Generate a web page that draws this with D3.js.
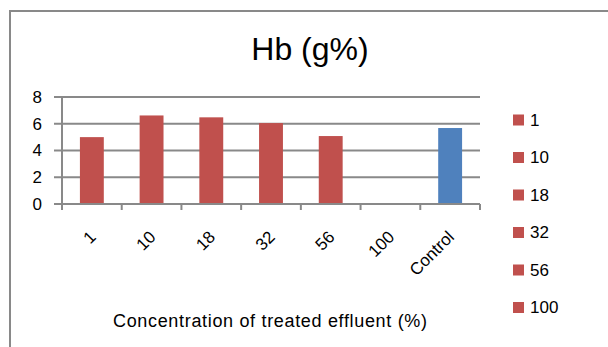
<!DOCTYPE html>
<html>
<head>
<meta charset="utf-8">
<script src="https://cdn.jsdelivr.net/npm/d3@7"></script>
<style>
  html, body { margin: 0; padding: 0; background: #fff; }
  svg { display: block; }
</style>
</head>
<body>
<svg id="chart" width="608" height="347"></svg>
<script>
// Hb (g%) by concentration of treated effluent
const categories = ["1", "10", "18", "32", "56", "100", "Control"];
const hbValues = [5.0, 6.62, 6.48, 6.05, 5.08, null, 5.68];
const barColors = ["#C0504D", "#C0504D", "#C0504D", "#C0504D", "#C0504D", "#C0504D", "#4F81BD"];
const legendLabels = ["1", "10", "18", "32", "56", "100"];
const yTicks = [0, 2, 4, 6, 8];

const svg = d3.select("#chart");
const font = "'Liberation Sans', Arial, sans-serif";
const grey = "#898989";

// Frame (top and left edges)
svg.append("path")
  .attr("d", "M10,347 L10,11 L608,11")
  .attr("fill", "none")
  .attr("stroke", grey)
  .attr("stroke-width", 2);

// Title
svg.append("text")
  .attr("x", 310).attr("y", 60)
  .attr("text-anchor", "middle")
  .attr("font-family", font)
  .attr("font-size", 32)
  .attr("fill", "#000")
  .text("Hb (g%)");

const plot = { left: 62, right: 480, top: 97, bottom: 204 };

const x = d3.scaleBand()
  .domain(categories)
  .range([plot.left, plot.right])
  .paddingInner(0.6)
  .paddingOuter(0.3);

const xOuter = d3.scaleBand()
  .domain(categories)
  .range([plot.left, plot.right]);

const y = d3.scaleLinear()
  .domain([0, 8])
  .range([plot.bottom, plot.top]);

// Horizontal gridlines with short ticks at the left
const gy = svg.append("g");
gy.selectAll("line.grid")
  .data(yTicks)
  .join("line")
  .attr("class", "grid")
  .attr("x1", plot.left - 8).attr("x2", plot.right)
  .attr("y1", d => y(d)).attr("y2", d => y(d))
  .attr("stroke", grey).attr("stroke-width", 2);

gy.selectAll("text")
  .data(yTicks)
  .join("text")
  .attr("x", 42)
  .attr("y", d => y(d))
  .attr("dy", "0.35em")
  .attr("text-anchor", "end")
  .attr("font-family", font)
  .attr("font-size", 17)
  .attr("fill", "#000")
  .text(d => d);

// Y axis line
svg.append("line")
  .attr("x1", plot.left).attr("x2", plot.left)
  .attr("y1", plot.top).attr("y2", plot.bottom + 6)
  .attr("stroke", grey).attr("stroke-width", 2);

// Category boundary ticks below the baseline
const bounds = categories.map(c => xOuter(c)).concat([plot.right]);
svg.selectAll("line.xtick")
  .data(bounds)
  .join("line")
  .attr("class", "xtick")
  .attr("x1", d => d).attr("x2", d => d)
  .attr("y1", plot.bottom).attr("y2", plot.bottom + 6)
  .attr("stroke", grey).attr("stroke-width", 2);

// Bars
svg.selectAll("rect.bar")
  .data(categories.map((c, i) => ({ c, v: hbValues[i], color: barColors[i] })).filter(d => d.v != null))
  .join("rect")
  .attr("class", "bar")
  .attr("x", d => x(d.c))
  .attr("width", x.bandwidth())
  .attr("y", d => y(d.v))
  .attr("height", d => y(0) - y(d.v))
  .attr("fill", d => d.color);

// Baseline drawn over the bars
svg.append("line")
  .attr("x1", plot.left).attr("x2", plot.right)
  .attr("y1", plot.bottom).attr("y2", plot.bottom)
  .attr("stroke", grey).attr("stroke-width", 2);

// Rotated category labels
svg.selectAll("text.xlab")
  .data(categories)
  .join("text")
  .attr("class", "xlab")
  .attr("transform", d => `translate(${x(d) + x.bandwidth() / 2 + 5},${238}) rotate(-45)`)
  .attr("text-anchor", "end")
  .attr("font-family", font)
  .attr("font-size", 17)
  .attr("fill", "#000")
  .text(d => d);

// Axis title
svg.append("text")
  .attr("x", 270).attr("y", 327)
  .attr("text-anchor", "middle")
  .attr("font-family", font)
  .attr("font-size", 18)
  .attr("textLength", 314)
  .attr("lengthAdjust", "spacing")
  .attr("fill", "#000")
  .text("Concentration of treated effluent (%)");

// Legend
const legend = svg.append("g");
const rows = legend.selectAll("g")
  .data(legendLabels)
  .join("g")
  .attr("transform", (d, i) => `translate(513,${120 + i * 37.5})`);
rows.append("rect")
  .attr("x", 0).attr("y", -5.5)
  .attr("width", 11).attr("height", 11)
  .attr("fill", "#C0504D");
rows.append("text")
  .attr("x", 17).attr("y", 0)
  .attr("dy", "0.35em")
  .attr("font-family", font)
  .attr("font-size", 17)
  .attr("fill", "#000")
  .text(d => d);
</script>
</body>
</html>
